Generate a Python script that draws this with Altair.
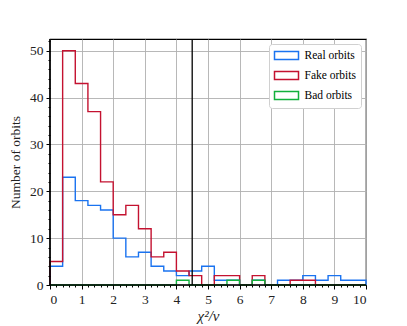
import altair as alt
import pandas as pd

# Histogram data (bin width 0.4 from 0 to 10)
bin_width = 0.4
bin_starts = [round(i * bin_width, 1) for i in range(25)]
real_counts = [4, 23, 18, 17, 16, 10, 6, 7, 4, 3, 2, 3, 4, 1, 1, 0, 1, 0, 1, 1, 2, 1, 2, 1, 1]
fake_counts = [5, 50, 43, 37, 22, 15, 17, 12, 6, 7, 3, 2, 0, 2, 2, 0, 2, 0, 0, 1, 1, 0, 0, 0, 0]
bad_counts = [0, 0, 0, 0, 0, 0, 0, 0, 0, 0, 1, 0, 0, 0, 1, 0, 1, 0, 0, 0, 0, 0, 0, 0, 0]
series_names = ["Real orbits", "Fake orbits", "Bad orbits"]
series_colors = ["#1a73f0", "#c41230", "#12b03c"]
threshold = 4.5
x_ticks = list(range(0, 11))
y_ticks = [0, 10, 20, 30, 40, 50]
x_minor = [round(i * 0.2, 1) for i in range(51)]
y_minor = list(range(0, 53, 2))

FONT = "Liberation Serif"


def step_frame(name, counts):
    rows = [{"x": 0.0, "y": 0, "order": 0, "series": name}]
    for i, (s, c) in enumerate(zip(bin_starts, counts)):
        rows.append({"x": s, "y": c, "order": i + 1, "series": name})
    end = bin_starts[-1] + bin_width
    rows.append({"x": end, "y": counts[-1], "order": len(counts) + 1, "series": name})
    rows.append({"x": end, "y": 0, "order": len(counts) + 2, "series": name})
    return pd.DataFrame(rows)


xscale = alt.Scale(domain=[0, 10], nice=False, zero=False)
yscale = alt.Scale(domain=[0, 52.5], nice=False)
color_scale = alt.Scale(domain=series_names, range=series_colors)

x_axis_major = alt.Axis(orient="bottom", values=x_ticks, title="χ²/ν", titleFontStyle="italic",
                        titleFontSize=15, titleFont=FONT, titleFontWeight="normal", titlePadding=3,
                        labelFont=FONT, labelFontSize=13.5, tickSize=4, grid=False, zindex=2,
                        format="d", labelPadding=3, domain=False)
y_axis_major = alt.Axis(orient="left", values=y_ticks, title="Number of orbits", titleFont=FONT,
                        titleFontSize=13.5, titleFontWeight="normal", titlePadding=7,
                        labelFont=FONT, labelFontSize=13.5, tickSize=4, grid=False, zindex=2,
                        labelPadding=3, domain=False)

layers = []
for name, counts in zip(series_names, [real_counts, fake_counts, bad_counts]):
    df = step_frame(name, counts)
    enc = dict(
        x=alt.X("x:Q", scale=xscale, axis=x_axis_major if not layers else None),
        y=alt.Y("y:Q", scale=yscale, axis=y_axis_major if not layers else None),
        order="order:Q",
        color=alt.Color("series:N", scale=color_scale,
                        legend=alt.Legend(title=None, orient="none", legendX=219, legendY=5,
                                          labelFont=FONT, labelFontSize=11.5, labelOffset=11,
                                          symbolType="M-2,-0.67H2V0.67H-2Z", symbolSize=144,
                                          symbolOffset=6,
                                          symbolStrokeWidth=1.5, symbolFillColor="white",
                                          fillColor="white", strokeColor="#d0d0d0",
                                          padding=4.5, cornerRadius=3, rowPadding=4,
                                          labelLimit=200)),
    )
    layers.append(alt.Chart(df).mark_line(interpolate="step-after", strokeWidth=1.4).encode(**enc))

# grid and minor ticks layers
aux_df = pd.DataFrame({"x": [0.0], "y": [0.0]})
grid = alt.Chart(aux_df).mark_point(opacity=0).encode(
    x=alt.X("x:Q", scale=xscale,
            axis=alt.Axis(orient="bottom", values=x_ticks, labels=False, grid=True, domain=False,
                          ticks=False, title=None, gridColor="#b0b0b0", gridWidth=0.9, zindex=0)),
    y=alt.Y("y:Q", scale=yscale,
            axis=alt.Axis(orient="left", values=y_ticks, labels=False, grid=True, domain=False,
                          ticks=False, title=None, gridColor="#b0b0b0", gridWidth=0.9, zindex=0)),
)
minor = alt.Chart(aux_df).mark_point(opacity=0).encode(
    x=alt.X("x:Q", scale=xscale,
            axis=alt.Axis(orient="bottom", values=x_minor, labels=False, grid=False, domain=False,
                          tickSize=2, title=None, zindex=2)),
    y=alt.Y("y:Q", scale=yscale,
            axis=alt.Axis(orient="left", values=y_minor, labels=False, grid=False, domain=False,
                          tickSize=2, title=None, zindex=2)),
)

rule = alt.Chart(pd.DataFrame({"t": [threshold]})).mark_rule(color="black", strokeWidth=1.3).encode(
    x=alt.X("t:Q", scale=xscale, axis=None)
)

# axis spines drawn above the histogram lines (as matplotlib does)
spine_df = pd.DataFrame({"zero": [0.0]})
spine_x = alt.Chart(spine_df).mark_rule(color="black", strokeWidth=1.7).encode(
    y=alt.Y("zero:Q", scale=yscale, axis=None)
)
spine_y = alt.Chart(spine_df).mark_rule(color="black", strokeWidth=1.7).encode(
    x=alt.X("zero:Q", scale=xscale, axis=None)
)

chart = alt.layer(grid, *layers, rule, spine_x, spine_y, minor).resolve_axis(
    x="independent", y="independent"
).properties(
    width=316, height=246,
    autosize=alt.AutoSizeParams(type="none"),
    padding={"left": 42, "top": 31, "right": 25, "bottom": 40},
).configure_view(stroke="black", strokeWidth=1.2).configure_axis(
    domainColor="black", tickColor="black", labelColor="#222", titleColor="#222"
)

chart.save("out.html", embed_options={"renderer": "svg", "actions": False})
